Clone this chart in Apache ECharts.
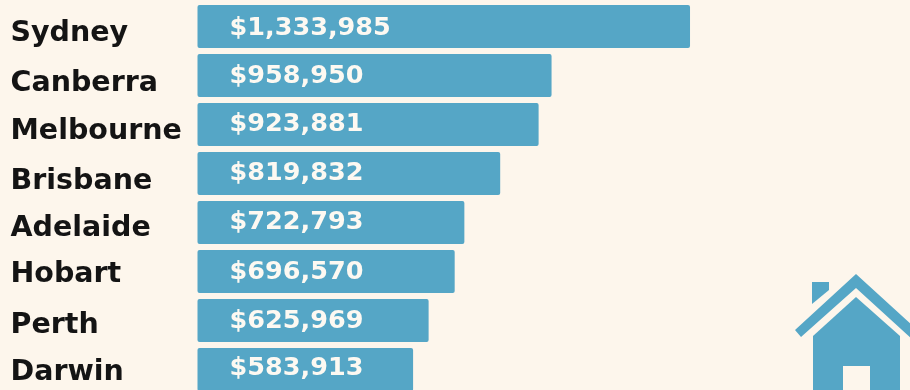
<!DOCTYPE html>
<html>
<head>
<meta charset="utf-8">
<style>html,body{margin:0;padding:0;background:#fdf6ec}#chart{width:910px;height:390px}</style>
<script src="https://cdn.jsdelivr.net/npm/echarts@6/dist/echarts.min.js"></script>
</head>
<body>
<div id="chart"></div>
<script>
const cities = ['Sydney','Canberra','Melbourne','Brisbane','Adelaide','Hobart','Perth','Darwin'];
const medianPrices = [1333985,958950,923881,819832,722793,696570,625969,583913];

// Hand-set vertical nudges for the text beside and inside each bar
const cityLabelDrop = [7,8,7,8,6,3,5,3];
const priceLabelDrop = [2,1,0,0,0,1,1,-1];

const blue = '#55a6c6';
const cream = '#fdf6ec';
const chart = echarts.init(document.getElementById('chart'));

// One rich style per city, each moving its label down by its own amount
const cityStyles = {};
cityLabelDrop.forEach((drop, i) => {
  cityStyles['c' + i] = {
    color: '#141414',
    fontFamily: 'DejaVu Sans',
    fontWeight: 'bold',
    fontSize: 28.5,
    padding: [drop * 2, 0, 0, 0]
  };
});

chart.setOption({
  backgroundColor: cream,
  animation: false,
  grid: {left: 197.5, top: 2, width: 701.5, height: 392, outerBoundsMode: 'none'},
  xAxis: {type: 'value', min: 0, max: 1900000, show: false},
  yAxis: {
    type: 'category',
    inverse: true,
    data: cities,
    axisLine: {show: false},
    axisTick: {show: false},
    axisLabel: {
      align: 'left',
      margin: 187,
      formatter: (name, i) => '{c' + i + '|' + name + '}',
      rich: cityStyles
    }
  },
  series: [{
    type: 'bar',
    data: medianPrices.map((price, i) => ({
      value: price,
      label: {offset: [0, priceLabelDrop[i]]}
    })),
    barWidth: 43,
    itemStyle: {color: blue, borderRadius: 2},
    label: {
      show: true,
      position: 'insideLeft',
      distance: 32,
      color: '#fdf9f2',
      fontFamily: 'DejaVu Sans',
      fontWeight: 'bold',
      fontSize: 25.5,
      formatter: p => '$' + p.value.toLocaleString('en-US')
    }
  }],
  graphic: [
    // House icon, bottom right corner
    {type: 'polygon', silent: true, shape: {points: [[812,282],[829,282],[829,290],[812,304]]}, style: {fill: blue}},
    {type: 'polygon', silent: true, shape: {points: [[795,330],[856,274],[914,327],[914,341],[856,288],[801,337]]}, style: {fill: blue}},
    {type: 'polygon', silent: true, shape: {points: [[813,336],[856,297],[900,336],[900,394],[813,394]]}, style: {fill: blue}},
    {type: 'rect', silent: true, shape: {x: 843, y: 366, width: 27, height: 28}, style: {fill: cream}}
  ]
});
</script>
</body>
</html>
